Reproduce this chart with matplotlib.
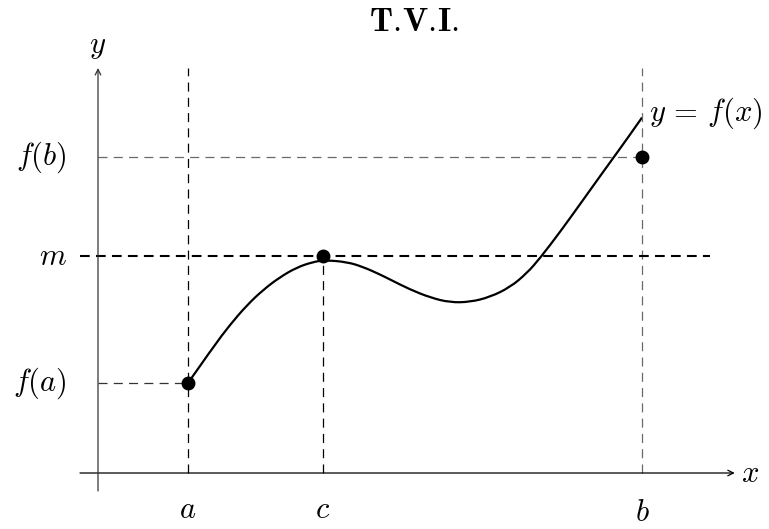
# Intermediate value theorem sketch (T.V.I.)
import matplotlib
matplotlib.use("Agg")
import matplotlib.pyplot as plt
from matplotlib.path import Path
from matplotlib.patches import PathPatch

plt.rcParams['mathtext.fontset'] = 'cm'
plt.rcParams['font.family'] = ['DejaVu Serif']
plt.rcParams['lines.scale_dashes'] = False

# key values on the axes
a, c, b = 2.0, 5.0, 12.09
fa, m, fb = 2.0, 4.82, 7.02

# the curve y = f(x)
curve_x = [2.00, 2.56, 2.93, 3.31, 3.67, 4.04, 4.42, 4.78, 5.04, 5.53, 5.89,
           6.27, 6.49, 6.93, 7.38, 7.82, 8.27, 8.71, 9.16, 9.53, 9.82, 10.27,
           10.71, 11.16, 11.42, 11.76, 12.09]
curve_y = [2.00, 2.80, 3.29, 3.73, 4.07, 4.35, 4.57, 4.69, 4.73, 4.69, 4.58,
           4.41, 4.30, 4.08, 3.90, 3.79, 3.80, 3.91, 4.13, 4.44, 4.77, 5.36,
           5.97, 6.60, 6.96, 7.43, 7.90]

# marked points
dot_x = [a, c, b]
dot_y = [fa, m, fb]

fig = plt.figure(figsize=(7.69, 5.29), dpi=100)
ax = fig.add_axes([0, 0, 1, 1])
ax.set_xlim(-98 / 45, 671 / 45)
ax.set_ylim(-56 / 45, 473 / 45)
ax.axis('off')

thin = (6.5, 4.5)
gray = '#6a6a6a'

# guide lines
ax.plot([a, a], [0, 9.0], color='black', lw=0.9, dashes=thin)
ax.plot([b, b], [0, 9.0], color=gray, lw=0.9, dashes=thin)
ax.plot([c, c], [0, m], color='black', lw=0.9, dashes=thin)
ax.plot([0, a], [fa, fa], color='#333333', lw=0.9, dashes=thin)
ax.plot([0, b], [fb, fb], color=gray, lw=0.9, dashes=thin)
ax.plot([-0.4, 13.6], [m, m], color='black', lw=1.5, dashes=(7, 4.5))

# axes with arrows
ax.annotate('', xy=(14.15, 0), xytext=(-0.4, 0),
            arrowprops=dict(arrowstyle='->', color='black', lw=0.9,
                            shrinkA=0, shrinkB=0))
ax.annotate('', xy=(0, 9.0), xytext=(0, -0.4),
            arrowprops=dict(arrowstyle='->', color='#333333', lw=0.9,
                            shrinkA=0, shrinkB=0))

# smooth curve: quadratic bezier pieces through the midpoints of the read points
pts = list(zip(curve_x, curve_y))
verts = [pts[0]]
codes = [Path.MOVETO]
for i in range(1, len(pts) - 1):
    mid = ((pts[i][0] + pts[i + 1][0]) / 2, (pts[i][1] + pts[i + 1][1]) / 2)
    if i == len(pts) - 2:
        mid = pts[-1]
    verts += [pts[i], mid]
    codes += [Path.CURVE3, Path.CURVE3]
ax.add_patch(PathPatch(Path(verts, codes), facecolor='none',
                       edgecolor='black', lw=1.6))
ax.plot(dot_x, dot_y, 'o', color='black', markersize=9, zorder=5)

fs = 22
ax.text(14.5, 0, r'$x$', fontsize=fs, ha='center', va='center')
ax.text(0, 9.5, r'$y$', fontsize=fs, ha='center', va='center')
ax.text(a, -0.8, r'$a$', fontsize=fs, ha='center', va='center')
ax.text(c, -0.8, r'$c$', fontsize=fs, ha='center', va='center')
ax.text(b, -0.88, r'$b$', fontsize=fs, ha='center', va='center')
ax.text(-0.7, fa, r'$f(a)$', fontsize=fs, ha='right', va='center')
ax.text(-0.7, m, r'$m$', fontsize=fs, ha='right', va='center')
ax.text(-0.7, fb, r'$f(b)$', fontsize=fs, ha='right', va='center')
ax.text(12.25, 8.0, r'$y\,=\,f(x)$', fontsize=fs, ha='left', va='center')

fig.text(414 / 769, 1 - 22 / 529, r'$\mathbf{T.\!V.\!I.}$', fontsize=24,
         ha='center', va='center')

fig.savefig('out.png', dpi=100)
